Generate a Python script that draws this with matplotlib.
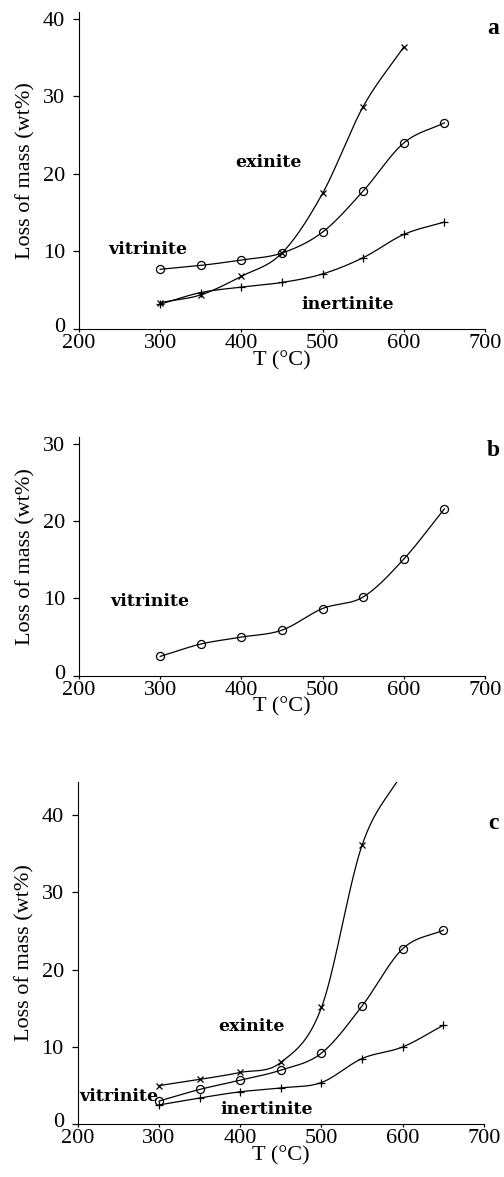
import numpy as np
import matplotlib
matplotlib.use("Agg")
import matplotlib.pyplot as plt
from matplotlib.transforms import ScaledTranslation

plt.rcParams['font.family'] = ['Liberation Serif', 'DejaVu Serif']
plt.rcParams['font.size'] = 16

# temperatures (deg C)
T = [300, 350, 400, 450, 500, 550, 600, 650]
T_exi = [300, 350, 400, 450, 500, 550, 600]

# (a) loss of mass, wt%
a_exinite = [3.4, 4.4, 6.8, 9.8, 17.5, 28.7, 36.4]
a_vitrinite = [7.7, 8.2, 8.9, 9.8, 12.5, 17.8, 24.0, 26.6]
a_inertinite = [3.2, 4.7, 5.4, 6.0, 7.1, 9.2, 12.2, 13.8]

# (b)
b_vitrinite = [2.5, 4.1, 5.0, 5.9, 8.7, 10.2, 15.1, 21.6]

# (c)
c_exinite = [5.0, 5.8, 6.7, 8.0, 15.1, 36.1, 45.5]
c_vitrinite = [3.0, 4.5, 5.7, 7.0, 9.2, 15.3, 22.7, 25.1]
c_inertinite = [2.5, 3.4, 4.2, 4.7, 5.4, 8.5, 10.0, 12.8]


def smooth(x, y, n=300):
    # cubic hermite with finite-difference tangents (catmull-rom style)
    x = np.asarray(x, float)
    y = np.asarray(y, float)
    h = np.diff(x)
    d = np.diff(y) / h
    m = np.empty_like(y)
    m[1:-1] = (y[2:] - y[:-2]) / (x[2:] - x[:-2])
    m[0] = d[0]
    m[-1] = d[-1]
    xs = np.linspace(x[0], x[-1], n)
    idx = np.clip(np.searchsorted(x, xs) - 1, 0, len(x) - 2)
    t = (xs - x[idx]) / h[idx]
    h00 = 2 * t**3 - 3 * t**2 + 1
    h10 = t**3 - 2 * t**2 + t
    h01 = -2 * t**3 + 3 * t**2
    h11 = t**3 - t**2
    ys = h00 * y[idx] + h10 * h[idx] * m[idx] + h01 * y[idx + 1] + h11 * h[idx] * m[idx + 1]
    return xs, ys


MS = {'x': 4.8, 'o': 5.8, '+': 5.2}


def curve(ax, x, y, marker):
    xs, ys = smooth(x, y)
    ax.plot(xs, ys, color='black', lw=0.9)
    ax.plot(x, y, ls='none', marker=marker, ms=MS[marker], mfc='none', mec='black', mew=0.9)


def style(ax, ytop, yticks):
    ax.set_xlim(200, 700)
    ax.set_ylim(0, ytop)
    ax.set_xticks([200, 300, 400, 500, 600, 700])
    ax.set_yticks(yticks)
    ax.spines['top'].set_visible(False)
    ax.spines['right'].set_visible(False)
    ax.tick_params(direction='out', width=0.9, labelsize=16)
    ax.tick_params(axis='y', length=4.5, pad=5.5)
    ax.tick_params(axis='x', length=2.5, pad=1.0)
    ax.set_ylabel('Loss of mass (wt%)', fontsize=16, labelpad=5)
    ax.set_xlabel('T (°C)', fontsize=16, labelpad=-1.5)
    # lift the "0" a little so it clears the "200" under the corner
    lbl = ax.get_yticklabels()[0]
    lbl.set_transform(lbl.get_transform() + ScaledTranslation(0, 3 / 72, ax.figure.dpi_scale_trans))


lab = dict(fontsize=12.5, family='DejaVu Serif', weight='bold', ha='center', va='center')
tag = dict(fontsize=17, weight='bold', ha='center', va='center', clip_on=False)

fig = plt.figure(figsize=(5.04, 11.77), dpi=100)

ax1 = fig.add_axes([0.1567, 0.7205, 0.8056, 0.2693])
curve(ax1, T_exi, a_exinite, 'x')
curve(ax1, T, a_vitrinite, 'o')
curve(ax1, T, a_inertinite, '+')
style(ax1, 40.9, [0, 10, 20, 30, 40])
ax1.text(285, 10.2, 'vitrinite', **lab)
ax1.text(433, 21.5, 'exinite', **lab)
ax1.text(531, 3.2, 'inertinite', **lab)
ax1.text(710, 38.8, 'a', **tag)

ax2 = fig.add_axes([0.1567, 0.4259, 0.8056, 0.2028])
curve(ax2, T, b_vitrinite, 'o')
style(ax2, 30.9, [0, 10, 20, 30])
ax2.text(287, 9.6, 'vitrinite', **lab)
ax2.text(710, 29.2, 'b', **tag)

ax3 = fig.add_axes([0.1542, 0.0448, 0.8061, 0.2911])
curve(ax3, T_exi, c_exinite, 'x')
curve(ax3, T, c_vitrinite, 'o')
curve(ax3, T, c_inertinite, '+')
style(ax3, 44.3, [0, 10, 20, 30, 40])
ax3.text(414, 12.7, 'exinite', **lab)
ax3.text(250, 3.6, 'vitrinite', **lab)
ax3.text(432, 1.9, 'inertinite', **lab)
ax3.text(712, 38.9, 'c', **tag)

fig.savefig('out.png', dpi=100)
